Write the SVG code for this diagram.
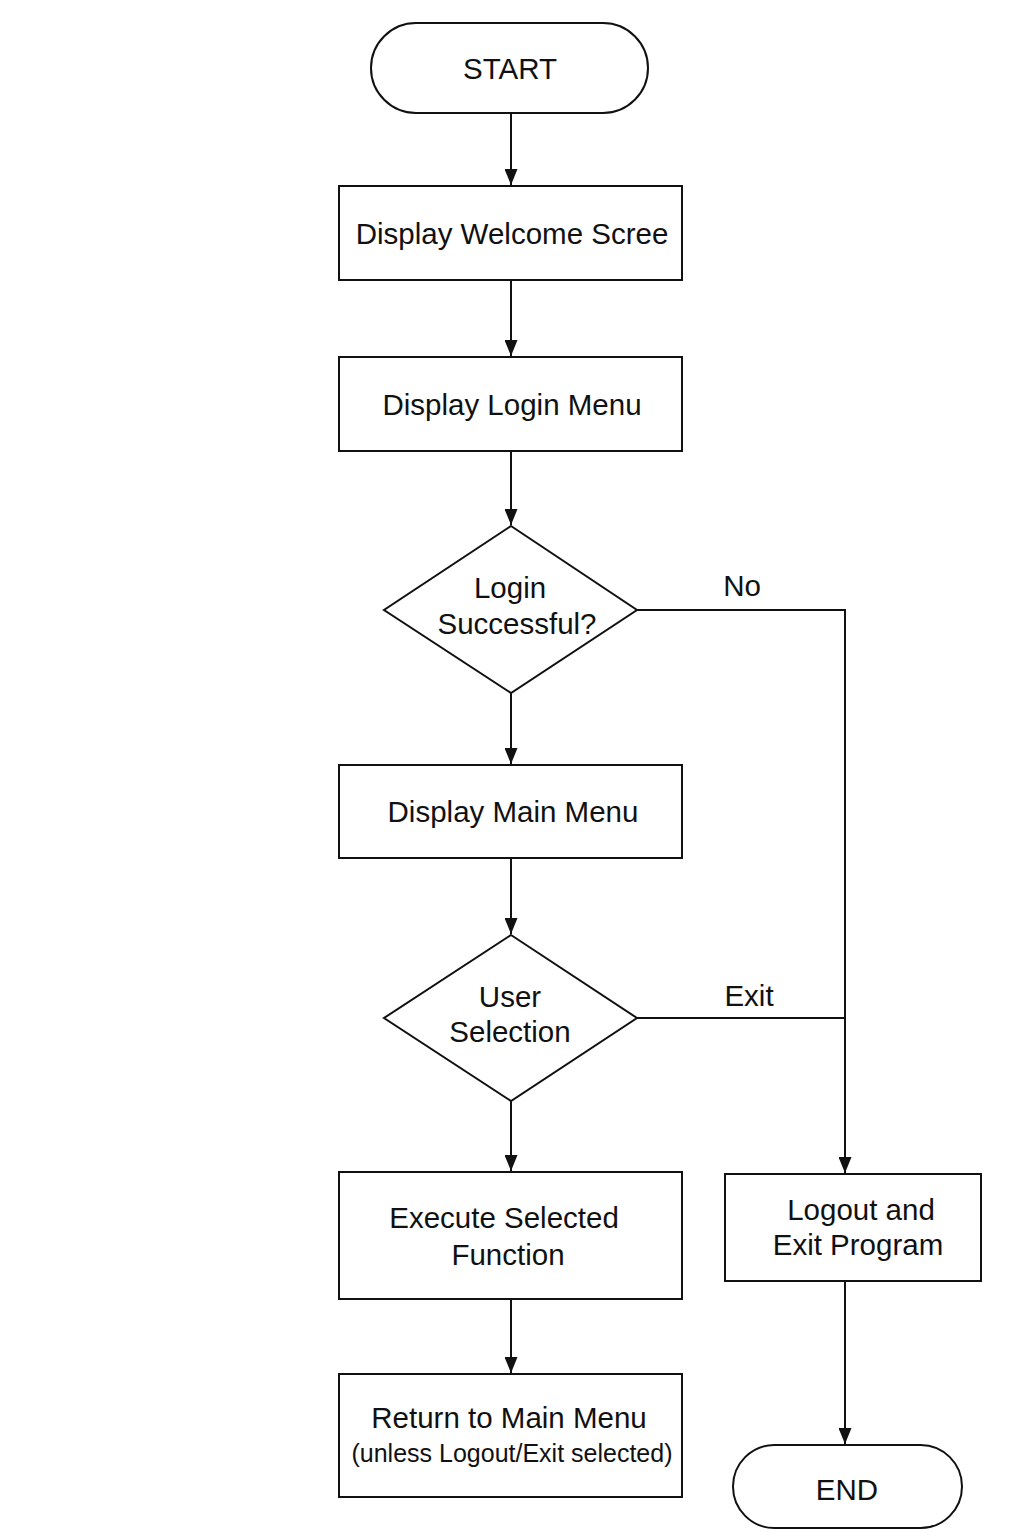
<svg xmlns="http://www.w3.org/2000/svg" width="1024" height="1536" viewBox="0 0 1024 1536">
<style>
.s{fill:#fff;stroke:#111;stroke-width:2}
.t{font-family:"Liberation Sans",Arial,sans-serif;font-size:29.5px;fill:#111;text-anchor:middle}
.sm{font-size:25px}
.c{fill:none;stroke:#111;stroke-width:2}
</style>
<defs>
<marker id="a" markerWidth="17" markerHeight="13" refX="16" refY="6.5" orient="auto" markerUnits="userSpaceOnUse" viewBox="0 0 17 13">
<path d="M0,0 L16,6.5 L0,13 Z" fill="#111"/>
</marker>
</defs>
<rect width="1024" height="1536" fill="#fff"/>
<g id="connectors">
<path class="c" d="M511,113 V185" marker-end="url(#a)"/>
<path class="c" d="M511,280 V356" marker-end="url(#a)"/>
<path class="c" d="M511,451 V525" marker-end="url(#a)"/>
<path class="c" d="M511,693 V764" marker-end="url(#a)"/>
<path class="c" d="M511,858 V934" marker-end="url(#a)"/>
<path class="c" d="M511,1101 V1171" marker-end="url(#a)"/>
<path class="c" d="M511,1299 V1373" marker-end="url(#a)"/>
<path class="c" d="M637,610 H845 V1173" marker-end="url(#a)"/>
<path class="c" d="M637,1018 H845"/>
<path class="c" d="M845,1281 V1444" marker-end="url(#a)"/>
<text class="t" x="742" y="596">No</text>
<text class="t" x="749" y="1006">Exit</text>
</g>
<g id="start">
<rect class="s" x="371" y="23" width="277" height="90" rx="45"/>
<text class="t" x="510" y="79">START</text>
</g>
<g id="welcome">
<rect class="s" x="339" y="186" width="343" height="94"/>
<text class="t" x="512" y="244">Display Welcome Scree</text>
</g>
<g id="login-menu">
<rect class="s" x="339" y="357" width="343" height="94"/>
<text class="t" x="512" y="415">Display Login Menu</text>
</g>
<g id="login-ok">
<polygon class="s" points="511,526 637,610 511,693 384,610"/>
<text class="t" x="510" y="598">Login</text>
<text class="t" x="517" y="634">Successful?</text>
</g>
<g id="main-menu">
<rect class="s" x="339" y="765" width="343" height="93"/>
<text class="t" x="513" y="822">Display Main Menu</text>
</g>
<g id="user-selection">
<polygon class="s" points="511,935 637,1018 511,1101 384,1018"/>
<text class="t" x="510" y="1007">User</text>
<text class="t" x="510" y="1042">Selection</text>
</g>
<g id="execute">
<rect class="s" x="339" y="1172" width="343" height="127"/>
<text class="t" x="504" y="1228">Execute Selected</text>
<text class="t" x="508" y="1265">Function</text>
</g>
<g id="return">
<rect class="s" x="339" y="1374" width="343" height="123"/>
<text class="t" x="509" y="1428">Return to Main Menu</text>
<text class="t sm" x="512" y="1462">(unless Logout/Exit selected)</text>
</g>
<g id="logout">
<rect class="s" x="725" y="1174" width="256" height="107"/>
<text class="t" x="861" y="1220">Logout and</text>
<text class="t" x="858" y="1255">Exit Program</text>
</g>
<g id="end">
<rect class="s" x="733" y="1445" width="229" height="83" rx="41.5"/>
<text class="t" x="847" y="1500">END</text>
</g>
</svg>
